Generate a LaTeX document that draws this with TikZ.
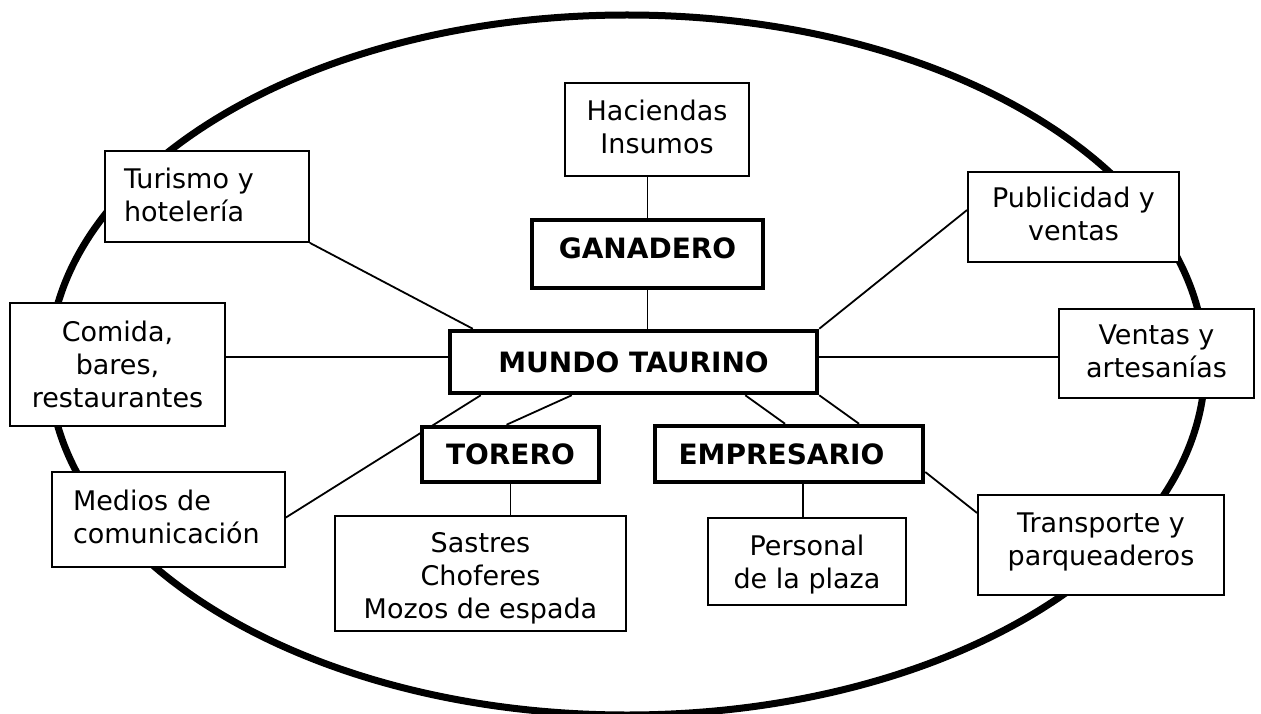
\documentclass[tikz,border=0pt]{standalone}
\usepackage{fontspec}
\setmainfont{DejaVu Sans}
\pgfdeclarelayer{bg}
\pgfsetlayers{bg,main}
\newcommand{\xdep}[1]{\rule[-#1]{0pt}{#1}}
\newcommand{\xht}[1]{\rule{0pt}{#1}}
\begin{document}
\begin{tikzpicture}[x=1pt,y=-1pt,
  box/.style={draw, line width=1.8pt, fill=white, rectangle, inner sep=0pt,
    align=center, font=\fontsize{27}{33}\selectfont},
  lbox/.style={box, align=left, inner ysep=0pt},
  bbox/.style={draw, line width=4.5pt, fill=white, rectangle, inner sep=0pt,
    font=\fontsize{28}{33}\selectfont\bfseries},
  link/.style={line width=1.8pt},
  rim/.style={line width=7pt}]
\useasboundingbox (0,0) rectangle (1261,714);

% boxes
\node[box, minimum width=184pt, minimum height=93pt] (hac) at (657,129.5) {Haciendas\\Insumos\xdep{6pt}};
\node[bbox, minimum width=231pt, minimum height=68pt, text depth=11.7pt] (gan) at (647.5,254) {GANADERO};
\node[lbox, text width=166pt, inner xsep=19pt, minimum height=91pt] (tur) at (207,196.5) {Turismo y\\hotelería\xdep{4pt}};
\node[box, minimum width=211pt, minimum height=90pt] (pub) at (1073.5,217) {Publicidad y\\ventas\xdep{6pt}};
\node[box, minimum width=215pt, minimum height=123pt] (com) at (117.5,364.5) {Comida,\\bares,\\restaurantes};
\node[bbox, minimum width=367pt, minimum height=62pt] (mun) at (633.5,362) {MUNDO TAURINO};
\node[box, minimum width=195pt, minimum height=89pt] (ven) at (1156.5,353.5) {Ventas y\\artesanías\xdep{4.5pt}};
\node[bbox, minimum width=177pt, minimum height=55pt] (tor) at (510.5,454.5) {TORERO};
\node[bbox, minimum width=268pt, minimum height=56pt] (emp) at (789,454) {EMPRESARIO\hspace*{15pt}};
\node[lbox, text width=191pt, inner xsep=21pt, minimum height=95pt] (med) at (168.5,519.5) {Medios de\\comunicación\xdep{6pt}};
\node[box, minimum width=291pt, minimum height=115pt] (sas) at (480.5,573.5) {\xht{29.7pt}Sastres\\Choferes\\Mozos de espada};
\node[box, minimum width=198pt, minimum height=87pt] (per) at (807,561.5) {\xht{26.5pt}Personal\\de la plaza};
\node[box, minimum width=246pt, minimum height=100pt] (tra) at (1101,545) {Transporte y\\parqueaderos\xdep{12.4pt}};

\begin{pgfonlayer}{bg}
  \fill[white] (0,0) rectangle (1261,714);
  \draw[rim] (627,365) ellipse [x radius=578, y radius=350];
  % connectors
  \draw[link] (gan.north) -- (gan.north |- hac.south);
  \draw[link] (gan.south) -- (gan.south |- mun.north);
  \draw[link] (tur.south east) -- ([xshift=25pt]mun.north west);
  \draw[link] ([yshift=7pt]pub.west) -- (mun.north east);
  \draw[link] ([yshift=5pt]mun.west) -- ([yshift=5pt]mun.west -| com.east);
  \draw[link] ([yshift=5pt]mun.east) -- ([yshift=5pt]mun.east -| ven.west);
  \draw[link] ([xshift=33pt]mun.south west) -- ([yshift=2pt]med.east);
  \draw[link] ([xshift=124pt]mun.south west) -- ([xshift=-4pt]tor.north);
  \draw[link] ([xshift=-74pt]mun.south east) -- ([xshift=-4pt]emp.north);
  \draw[link] (mun.south east) -- ([xshift=70pt]emp.north);
  \draw[link] (tor.south) -- (tor.south |- sas.north);
  \draw[link] ([xshift=14pt]emp.south) -- ([xshift=-4pt]per.north);
  \draw[link] ([yshift=-18pt]emp.east) -- ([yshift=32pt]tra.west);
\end{pgfonlayer}
\end{tikzpicture}
\end{document}
